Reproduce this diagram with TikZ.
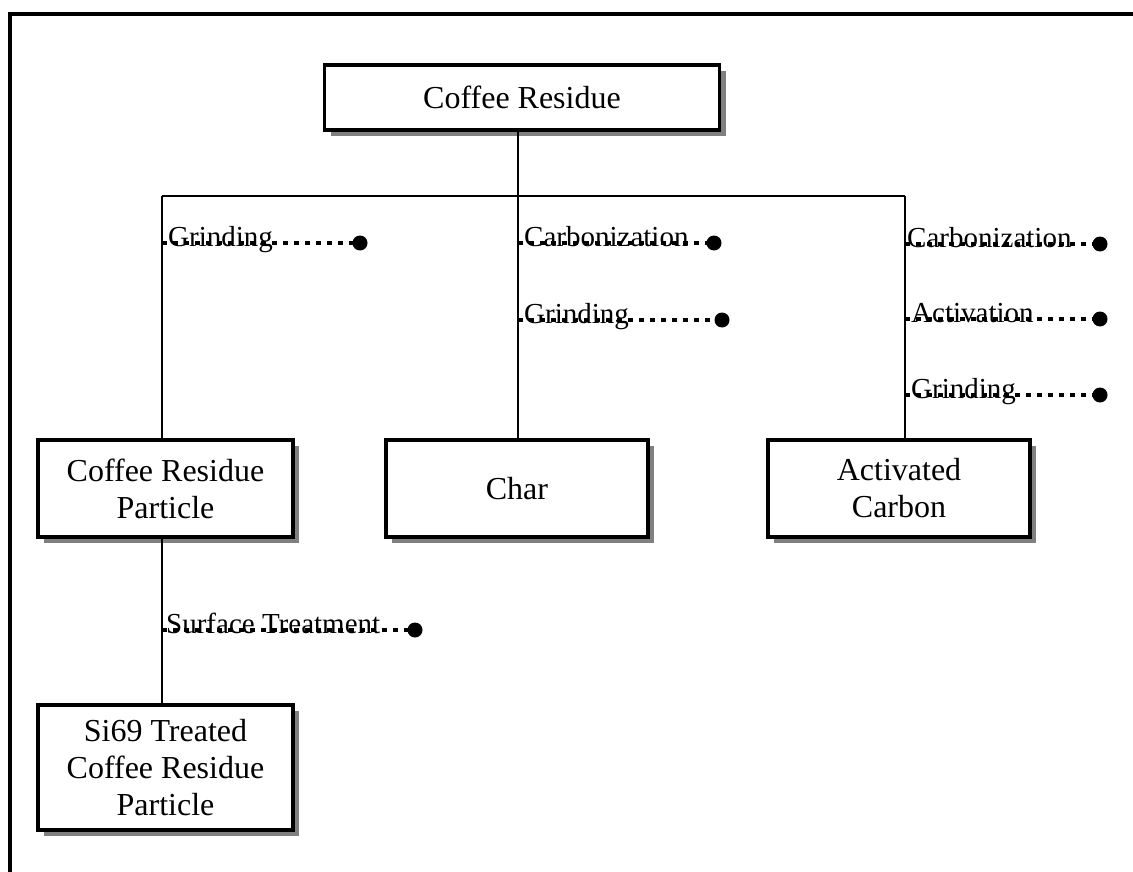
\documentclass[tikz,border=0pt]{standalone}
\usepackage{fontspec}
\setmainfont{Liberation Serif}
\usetikzlibrary{shadows}
\begin{document}
\begin{tikzpicture}[x=1pt,y=-1pt,
  boxnode/.style={draw=black, line width=3.2pt, fill=white, align=center, inner sep=0pt,
    font=\fontsize{32}{37}\selectfont,
    drop shadow={shadow xshift=6pt, shadow yshift=-6pt, fill=black!50, opacity=1}},
  conn/.style={line width=2pt},
  dotline/.style={line width=4pt, dash pattern=on 5pt off 6pt},
  lbl/.style={anchor=base west, inner sep=0pt, font=\fontsize{29}{32}\selectfont},
  enddot/.style={fill=black}]
\fill[white] (0,0) rectangle (1133,872);
\useasboundingbox (0,0) rectangle (1133,872);
% frame
\coordinate (fb) at (10,872);
\coordinate (fc) at (10,14);
\coordinate (fr) at (1133,14);
\draw[line width=4pt] (fb) -- (fc) -- (fr);
% boxes
\node[boxnode, minimum width=395pt, minimum height=65pt] (cr) at (522,97.5) {Coffee Residue};
\node[boxnode, minimum width=255pt, minimum height=97pt] (crp) at (165.5,488.5) {Coffee Residue\\Particle};
\node[boxnode, minimum width=262pt, minimum height=97pt] (ch) at (517,488.5) {Char};
\node[boxnode, minimum width=262pt, minimum height=97pt] (ac) at (899,488.5) {Activated\\Carbon};
\node[boxnode, minimum width=255pt, minimum height=125pt] (si) at (165.5,767.5) {Si69 Treated\\Coffee Residue\\Particle};
% tree
\coordinate (top) at (518,130);
\coordinate (jm) at (518,196);
\coordinate (jl) at (162,196);
\coordinate (jr) at (905,196);
\draw[conn] (top) -- (jm);
\draw[conn] (jl) -- (jr);
\draw[conn] (jl) -- (jl |- crp.north);
\draw[conn] (jm) -- (jm |- ch.north);
\draw[conn] (jr) -- (jr |- ac.north);
\coordinate (pl) at (162,537);
\draw[conn] (pl) -- (pl |- si.north);
% process steps
\coordinate (s1) at (162,243); \coordinate (e1) at (360,243);
\coordinate (s2) at (518,243); \coordinate (e2) at (714,243);
\coordinate (s3) at (518,320); \coordinate (e3) at (722,320);
\coordinate (s4) at (905,244); \coordinate (e4) at (1100,244);
\coordinate (s5) at (905,319); \coordinate (e5) at (1100,319);
\coordinate (s6) at (905,395); \coordinate (e6) at (1100,395);
\coordinate (s7) at (162,630); \coordinate (e7) at (415,630);
\foreach \i in {1,...,7} {
  \draw[dotline] (s\i) -- (e\i);
  \fill[enddot] (e\i) circle (7.5pt);
}
\node[lbl] (l1) at ([xshift=6pt,yshift=-3pt]s1) {Grinding};
\node[lbl] (l2) at ([xshift=6pt,yshift=-3pt]s2) {Carbonization};
\node[lbl] (l3) at ([xshift=6pt,yshift=-3pt]s3) {Grinding};
\node[lbl] (l4) at ([xshift=2pt,yshift=-3pt]s4) {Carbonization};
\node[lbl] (l5) at ([xshift=6pt,yshift=-3pt]s5) {Activation};
\node[lbl] (l6) at ([xshift=6pt,yshift=-3pt]s6) {Grinding};
\node[lbl] (l7) at ([xshift=4pt,yshift=-3pt]s7) {Surface Treatment};
\end{tikzpicture}
\end{document}
